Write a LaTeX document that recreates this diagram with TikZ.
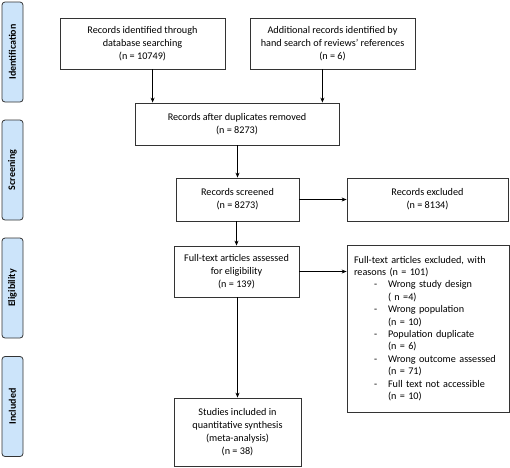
\documentclass[tikz,border=0pt]{standalone}
\usepackage{fontspec}
\setmainfont{Carlito}
\usetikzlibrary{arrows.meta,calc}

\definecolor{phaseblue}{RGB}{204,228,250}
\newcommand{\xitem}[2]{\hspace*{20pt}\makebox[14pt][l]{-}#1\\\hspace*{34pt}#2}

\begin{document}
\begin{tikzpicture}[x=1pt, y=-1pt, >={Stealth[length=5pt,width=4pt]},
    box/.style={draw=black!80, line width=0.8pt, align=center, inner sep=2pt,
        font=\fontsize{10.2}{12.8}\selectfont},
    phase/.style={draw=black!80, line width=0.8pt, rounded corners=3pt, fill=phaseblue,
        minimum width=21pt, minimum height=100pt, inner sep=0pt},
    phasetext/.style={rotate=90, font=\fontsize{10}{12}\selectfont\bfseries}]

    \useasboundingbox (0,0) rectangle (510,467);

    % phases
    \node[phase] (P1) at (12.5,52) {};
    \node[phase] (P2) at (12.5,170) {};
    \node[phase] (P3) at (12.5,288) {};
    \node[phase] (P4) at (12.5,406.5) {};
    \node[phasetext] at (P1) {Identification};
    \node[phasetext] at (P2) {Screening};
    \node[phasetext] at (P3) {Eligibility};
    \node[phasetext] at (P4) {Included};

    % boxes
    \node[box, minimum width=165pt, minimum height=51pt] (Rec1) at (142.5,43.5)
        {Records identified through\\database searching\\(n = 10749)};
    \node[box, minimum width=165pt, minimum height=51pt] (Rec2) at (332.5,43.5)
        {Additional records identified by\\hand search of reviews’ references\\(n = 6)};
    \node[box, minimum width=204pt, minimum height=42pt] (Dup) at (237,124)
        {Records after duplicates removed\\(n = 8273)};
    \node[box, minimum width=123pt, minimum height=43pt] (Scr) at (237.5,199.5)
        {Records screened\\(n = 8273)};
    \node[box, minimum width=161pt, minimum height=43pt] (Exc) at (427.5,199.5)
        {Records excluded\\(n = 8134)};
    \node[box, minimum width=125pt, minimum height=51pt] (Full) at (236.5,271.5)
        {Full-text articles assessed\\for eligibility\\(n = 139)};
    \node[box, minimum width=162pt, minimum height=167pt, text width=148pt, align=left,
        font=\fontsize{10.2}{12.4}\selectfont] (FullEx) at (428,328.5)
        {Full-text articles excluded, with\\reasons (n = 101)\\
         \xitem{Wrong study design}{( n =4)}\\
         \xitem{Wrong population}{(n = 10)}\\
         \xitem{Population duplicate}{(n = 6)}\\
         \xitem{Wrong outcome assessed}{(n = 71)}\\
         \xitem{Full text not accessible}{(n = 10)}};
    \node[box, minimum width=127pt, minimum height=68pt] (Inc) at (237.5,432)
        {Studies included in\\quantitative synthesis\\(meta-analysis)\\(n = 38)};

    % arrows
    \coordinate (a1) at ($(Dup.north west)+(18,0)$);
    \coordinate (a2) at ($(Dup.north east)+(-17,0)$);
    \draw[->, line width=0.8pt] (a1 |- Rec1.south) -- (a1);
    \draw[->, line width=0.8pt] (a2 |- Rec2.south) -- (a2);
    \draw[->, line width=0.8pt] (Scr.north |- Dup.south) -- (Scr.north);
    \draw[->, line width=0.8pt] (Scr.east) -- (Exc.west);
    \draw[->, line width=0.8pt] (Full.north |- Scr.south) -- (Full.north);
    \draw[->, line width=0.8pt] (Full.east) -- (Full.east -| FullEx.west);
    \draw[->, line width=0.8pt] (Inc.north |- Full.south) -- (Inc.north);

\end{tikzpicture}
\end{document}
